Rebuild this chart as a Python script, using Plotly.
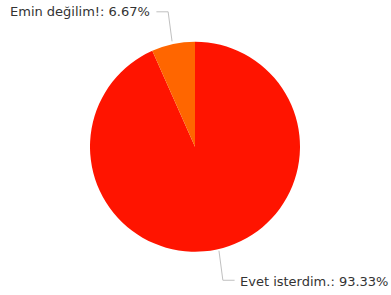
import math
import plotly.graph_objects as go

labels = ["Evet isterdim.", "Emin değilim!"]
values = [93.33, 6.67]
colors = ["#FF1400", "#FF6600"]

W, H = 391, 295
cx, cy, r = 195.0, 146.7, 105.0

fig = go.Figure(go.Pie(
    labels=labels, values=values, sort=False, direction="clockwise", rotation=0,
    marker=dict(colors=colors, line=dict(width=0)),
    textinfo="none", hoverinfo="label+percent", showlegend=False,
    domain=dict(x=[(cx - r) / W, (cx + r) / W], y=[1 - (cy + r) / H, 1 - (cy - r) / H]),
))

total = sum(values)
shapes, annotations = [], []
cum = 0.0
for lab, v in zip(labels, values):
    mid = (cum + v / 2) / total * 2 * math.pi
    cum += v
    sx, sy = math.sin(mid), -math.cos(mid)
    p0 = (cx + (r + 2) * sx, cy + (r + 2) * sy)
    p1 = (cx + (r + 33) * sx, cy + (r + 33) * sy)
    side = 1 if sx >= 0 else -1
    p2 = (p1[0] + side * 9, p1[1])
    path = "M {:.2f},{:.2f} L {:.2f},{:.2f} L {:.2f},{:.2f}".format(
        p0[0] / W, 1 - p0[1] / H, p1[0] / W, 1 - p1[1] / H, p2[0] / W, 1 - p2[1] / H)
    shapes.append(dict(type="path", xref="paper", yref="paper", path=path,
                       line=dict(color="#C0C0C0", width=1)))
    annotations.append(dict(
        x=(p2[0] + side * 5) / W, y=1 - p2[1] / H, xref="paper", yref="paper",
        text="{}: {:.2f}%".format(lab, v / total * 100), showarrow=False,
        xanchor="left" if side > 0 else "right", yanchor="middle",
        font=dict(family="DejaVu Sans", size=13, color="#333333")))

fig.update_layout(
    width=W, height=H, margin=dict(l=0, r=0, t=0, b=0),
    paper_bgcolor="white", plot_bgcolor="white",
    shapes=shapes, annotations=annotations,
)
fig.write_html("out.html", config={"displayModeBar": False},
               post_script="document.body.style.margin='0';")
